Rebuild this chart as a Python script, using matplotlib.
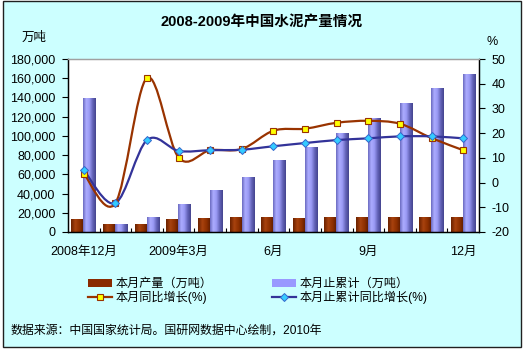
import numpy as np
import matplotlib
matplotlib.use("Agg")
import matplotlib.pyplot as plt
from matplotlib.path import Path
from matplotlib.patches import PathPatch, Patch, Rectangle
from matplotlib.lines import Line2D
from matplotlib.colors import LinearSegmentedColormap

plt.rcParams['font.family'] = ['Liberation Sans', 'Noto Sans CJK SC', 'DejaVu Sans']

# ---------------- data ----------------
categories = ["2008年12月", "", "", "2009年3月", "", "", "6月", "", "", "9月", "", "", "12月"]
monthly_output = [12500, 7300, 8300, 12500, 14400, 14600, 15600, 14500, 14600, 15600, 15500, 15600, 14600]
cumulative_output = [138400, 7300, 15600, 28100, 42700, 57200, 73900, 87400, 103000, 118600, 134200, 148800, 163700]
monthly_yoy = [3.6, -8.3, 42.4, 10.1, 13.1, 13.6, 21.0, 21.8, 24.2, 25.0, 23.8, 18.0, 13.1]
cumulative_yoy = [5.0, -8.3, 17.2, 12.8, 13.1, 13.3, 14.7, 16.0, 17.2, 17.9, 18.7, 18.7, 17.9]

left_ticks = [0, 20000, 40000, 60000, 80000, 100000, 120000, 140000, 160000, 180000]
right_ticks = [-20, -10, 0, 10, 20, 30, 40, 50]

title = "2008-2009年中国水泥产量情况"
legend_labels = ["本月产量（万吨）", "本月止累计（万吨）", "本月同比增长(%)", "本月止累计同比增长(%)"]
source = "数据来源：中国国家统计局。国研网数据中心绘制，2010年"

# ---------------- styling ----------------
W, H = 525, 350
BG = "#CCFFFF"
BROWN = "#993300"
PURPLE = "#9999FF"
NAVY = "#333399"

fig = plt.figure(figsize=(W / 100, H / 100), dpi=100)
fig.patch.set_facecolor("white")
fig.patches.append(Rectangle((3 / W, 3 / H), 518 / W, 346 / H, transform=fig.transFigure,
                             facecolor=BG, edgecolor="#202020", linewidth=1.0, zorder=-10))

ax = fig.add_axes([68 / W, 118 / H, 411 / W, 173 / H])
ax.set_facecolor("white")
ax2 = ax.twinx()

x = np.arange(len(categories))
bw = 0.38
b1 = ax.bar(x - 0.2, monthly_output, width=bw, color="none", edgecolor="none")
b2 = ax.bar(x + 0.18, cumulative_output, width=bw, color="none", edgecolor="none")


def gradient_fill(bars, colors):
    cmap = LinearSegmentedColormap.from_list("g", colors)
    grad = np.linspace(0, 1, 64).reshape(1, -1)
    for b in bars:
        x0, y0 = b.get_xy()
        ax.imshow(grad, extent=[x0, x0 + b.get_width(), y0, y0 + b.get_height()],
                  cmap=cmap, aspect="auto", interpolation="bilinear", zorder=2)


gradient_fill(b1, ["#6A2200", "#A8420E", "#8E3000", "#5A1A00"])
gradient_fill(b2, ["#6A6AC0", "#ACACFF", "#9A9AF4", "#6464B8", "#44448E"])

ax.set_xlim(-0.5, len(categories) - 0.5)
ax.set_ylim(0, 180000)
ax.set_yticks(left_ticks)
ax.set_yticklabels([f"{v:,}" for v in left_ticks], fontsize=9)
ax.set_xticks(x)
ax.set_xticklabels(categories, fontsize=9)
ax.tick_params(axis="x", length=0, pad=10)
ax.set_xticks(np.arange(0.5, len(categories) - 1, 1), minor=True)
ax.tick_params(axis="x", which="minor", direction="in", length=3, width=0.8)
ax.tick_params(axis="y", direction="out", length=4, width=0.8, pad=5)

ax2.set_ylim(-20, 50)
ax2.set_yticks(right_ticks)
ax2.set_yticklabels([str(v) for v in right_ticks], fontsize=9)
ax2.tick_params(axis="y", direction="out", length=4, width=0.8, pad=5)

for a in (ax, ax2):
    for s in ("left", "right", "bottom"):
        a.spines[s].set_color("black")
        a.spines[s].set_linewidth(0.9)
    a.spines["top"].set_color("#A0A0A0")
    a.spines["top"].set_linewidth(0.9)


def smooth_path(xs, ys):
    pts = np.column_stack([xs, ys]).astype(float)
    n = len(pts)
    verts = [pts[0]]
    codes = [Path.MOVETO]
    for i in range(n - 1):
        p0 = pts[i - 1] if i > 0 else pts[i]
        p1 = pts[i]
        p2 = pts[i + 1]
        p3 = pts[i + 2] if i + 2 < n else pts[i + 1]
        c1 = p1 + (p2 - p0) / 6.0
        c2 = p2 - (p3 - p1) / 6.0
        verts += [c1, c2, p2]
        codes += [Path.CURVE4] * 3
    return Path(verts, codes)


ax2.add_patch(PathPatch(smooth_path(x, monthly_yoy), fill=False, edgecolor=BROWN, linewidth=1.6, zorder=3))
ax2.add_patch(PathPatch(smooth_path(x, cumulative_yoy), fill=False, edgecolor=NAVY, linewidth=1.6, zorder=3))
ax2.plot(x, monthly_yoy, linestyle="none", marker="s", markersize=5, markerfacecolor="#FFFF00",
         markeredgecolor=BROWN, markeredgewidth=0.8, zorder=4)
ax2.plot(x, cumulative_yoy, linestyle="none", marker="D", markersize=4.0, markerfacecolor="#33CCFF",
         markeredgecolor="#3366CC", markeredgewidth=0.7, zorder=4)

# texts
fig.text(262 / W, 1 - 22 / H, title, ha="center", va="center", fontsize=10.5, fontweight="bold")
fig.text(34.5 / W, 1 - 38 / H, "万吨", ha="center", va="center", fontsize=9)
fig.text(492 / W, 1 - 42 / H, "%", ha="center", va="center", fontsize=9)
fig.text(10 / W, 1 - 331 / H, source, ha="left", va="center", fontsize=8.6)

handles = [
    Patch(facecolor="#8A2A00", edgecolor="none"),
    Line2D([], [], color=BROWN, linewidth=1.6, marker="s", markersize=5,
           markerfacecolor="#FFFF00", markeredgecolor=BROWN, markeredgewidth=0.8),
    Patch(facecolor=PURPLE, edgecolor="none"),
    Line2D([], [], color=NAVY, linewidth=1.6, marker="D", markersize=4.0,
           markerfacecolor="#33CCFF", markeredgecolor="#3366CC", markeredgewidth=0.7),
]
labels = [legend_labels[0], legend_labels[2], legend_labels[1], legend_labels[3]]
fig.legend(handles, labels, ncol=2, loc="upper left", bbox_to_anchor=(88 / W, 1 - 278 / H),
           frameon=False, fontsize=8.7, borderpad=0, borderaxespad=0, handlelength=2.0,
           handletextpad=0.3, columnspacing=4.9, labelspacing=0.1, handleheight=0.6)

fig.savefig("out.png", dpi=100, facecolor=fig.get_facecolor())
